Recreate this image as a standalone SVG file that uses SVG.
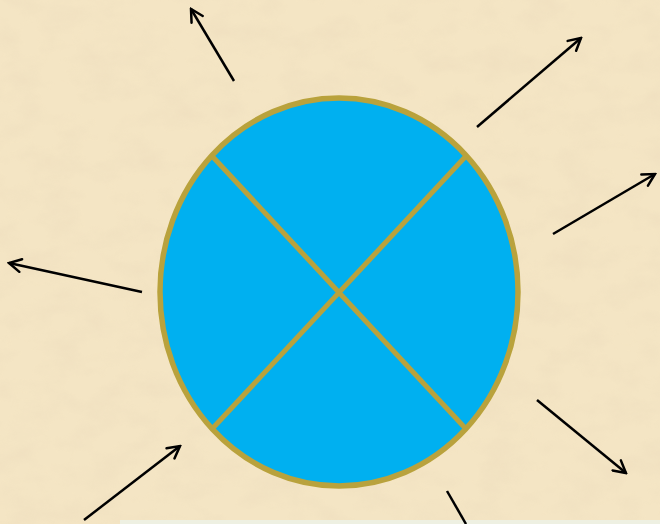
<svg xmlns="http://www.w3.org/2000/svg" width="660" height="524" viewBox="0 0 660 524">
  <defs>
    <filter id="paper" x="0" y="0" width="100%" height="100%">
      <feTurbulence type="fractalNoise" baseFrequency="0.025 0.04" numOctaves="4" seed="7" result="n"/>
      <feColorMatrix in="n" type="matrix" values="0 0 0 0 0.82  0 0 0 0 0.69  0 0 0 0 0.49  0 0 0 1.1 -0.45" result="c"/>
      <feComposite in="c" in2="SourceGraphic" operator="in"/>
    </filter>
    <marker id="open" viewBox="0 0 16 16" refX="14" refY="8" markerWidth="16" markerHeight="16" markerUnits="userSpaceOnUse" orient="auto">
      <path d="M2,1.5 L14,8 L2,14.5" fill="none" stroke="#000" stroke-width="2.5" stroke-linecap="round" stroke-linejoin="miter"/>
    </marker>
  </defs>
  <style>
    .arrow { stroke: #000; stroke-width: 2.5; fill: none; marker-end: url(#open); }
    .plain { stroke: #000; stroke-width: 2.5; fill: none; }
    .ring { fill: #00b0f0; stroke: #b9a23c; stroke-width: 5.5; }
    .cross { stroke: #b9a23c; stroke-width: 5; fill: none; }
  </style>
  <rect width="660" height="524" fill="#f4e5c4"/>
  <rect width="660" height="524" fill="#f4e5c4" filter="url(#paper)" opacity="0.65"/>
  <rect x="120" y="520" width="540" height="4" fill="#eef0e2"/>

  <g id="circle">
    <ellipse class="ring" cx="339" cy="292" rx="179" ry="194"/>
    <line class="cross" x1="212" y1="156" x2="466" y2="429"/>
    <line class="cross" x1="466" y1="156" x2="212" y2="429"/>
  </g>

  <g id="connectors">
    <line class="arrow" x1="234" y1="81" x2="191" y2="9"/>
    <line class="arrow" x1="477" y1="127" x2="581" y2="38"/>
    <line class="arrow" x1="553" y1="234" x2="655" y2="174"/>
    <line class="arrow" x1="142" y1="292" x2="9" y2="263"/>
    <line class="arrow" x1="537" y1="400" x2="626" y2="473"/>
    <line class="arrow" x1="84" y1="520" x2="180" y2="446"/>
    <line class="plain" x1="447" y1="491" x2="466" y2="524"/>
  </g>
</svg>
